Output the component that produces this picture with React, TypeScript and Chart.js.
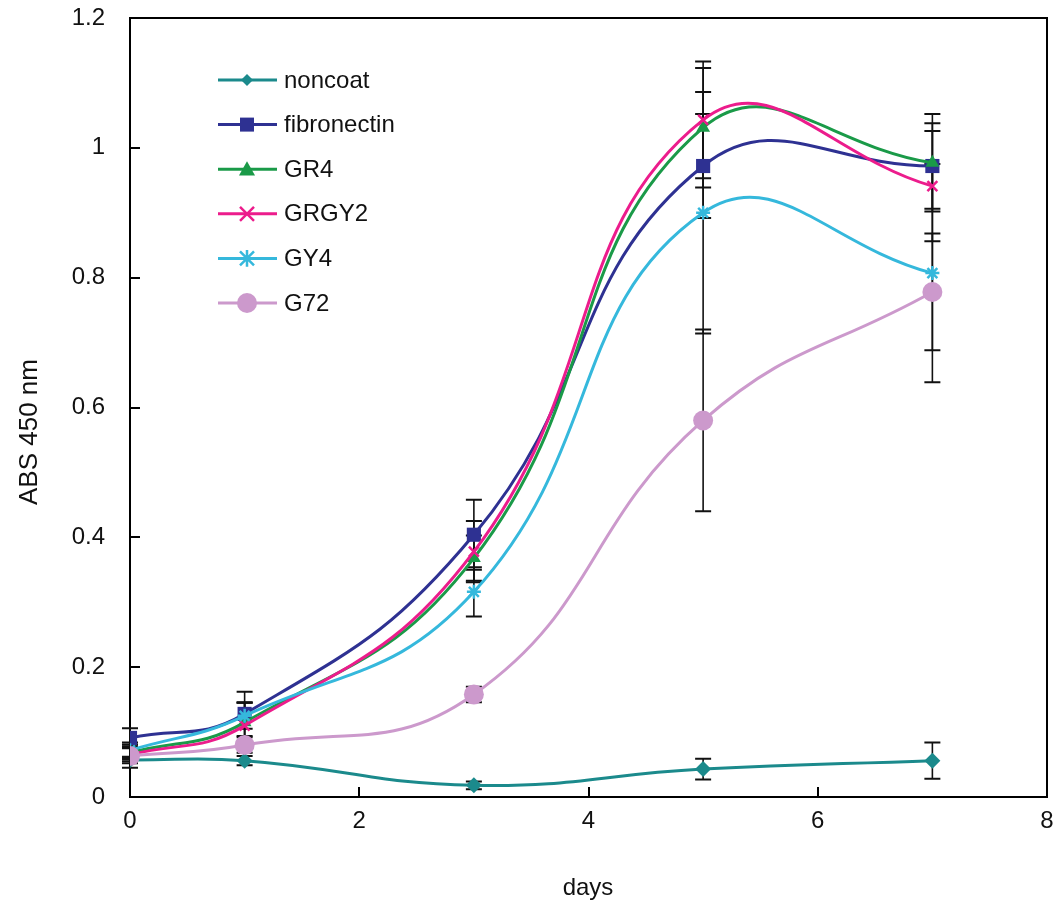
import React, { useEffect, useRef } from "react";
import { Chart, registerables } from "chart.js";

Chart.register(...registerables);

const days = [0, 1, 3, 5, 7];
const seriesNames = ["noncoat", "fibronectin", "GR4", "GRGY2", "GY4", "G72"];

const noncoat = [0.057, 0.056, 0.018, 0.043, 0.056];
const noncoatErr = [0.005, 0.007, 0.006, 0.016, 0.028];
const fibronectin = [0.091, 0.128, 0.404, 0.972, 0.972];
const fibronectinErr = [0.015, 0.034, 0.054, 0.08, 0.066];
const gr4 = [0.068, 0.115, 0.368, 1.031, 0.977];
const gr4Err = [0.01, 0.03, 0.035, 0.092, 0.075];
const grgy2 = [0.065, 0.11, 0.378, 1.043, 0.941];
const grgy2Err = [0.01, 0.036, 0.047, 0.09, 0.085];
const gy4 = [0.072, 0.125, 0.316, 0.9, 0.807];
const gy4Err = [0.012, 0.02, 0.038, 0.186, 0.168];
const g72 = [0.063, 0.08, 0.158, 0.58, 0.778];
const g72Err = [0.018, 0.012, 0.012, 0.14, 0.09];

const values = [noncoat, fibronectin, gr4, grgy2, gy4, g72];
const errors = [noncoatErr, fibronectinErr, gr4Err, grgy2Err, gy4Err, g72Err];
const colors = ["#1b8a8c", "#2e3192", "#1a9a48", "#ec1c8c", "#35b8dc", "#cc99cc"];
const markers = ["rectRot", "rect", "triangle", "crossRot", "star", "circle"];
const markerSizes = [8, 10, 8, 7, 7, 10];
const legendSizes = [6, 7, 8, 7, 7, 10];

const xTicks = [0, 2, 4, 6, 8];
const yTicks = [0, 0.2, 0.4, 0.6, 0.8, 1, 1.2];

const FONT = "'Liberation Sans', Arial, sans-serif";

function drawMarker(ctx: CanvasRenderingContext2D, style: string, x: number, y: number, r: number, color: string) {
  ctx.save();
  ctx.fillStyle = color;
  ctx.strokeStyle = color;
  ctx.lineWidth = 2.5;
  ctx.beginPath();
  if (style === "rectRot") {
    ctx.moveTo(x, y - r);
    ctx.lineTo(x + r, y);
    ctx.lineTo(x, y + r);
    ctx.lineTo(x - r, y);
    ctx.closePath();
    ctx.fill();
  } else if (style === "rect") {
    ctx.rect(x - r, y - r, 2 * r, 2 * r);
    ctx.fill();
  } else if (style === "triangle") {
    ctx.moveTo(x, y - r);
    ctx.lineTo(x + r, y + r * 0.8);
    ctx.lineTo(x - r, y + r * 0.8);
    ctx.closePath();
    ctx.fill();
  } else if (style === "crossRot") {
    ctx.moveTo(x - r, y - r);
    ctx.lineTo(x + r, y + r);
    ctx.moveTo(x + r, y - r);
    ctx.lineTo(x - r, y + r);
    ctx.stroke();
  } else if (style === "star") {
    ctx.moveTo(x - r, y - r);
    ctx.lineTo(x + r, y + r);
    ctx.moveTo(x + r, y - r);
    ctx.lineTo(x - r, y + r);
    ctx.moveTo(x, y - r * 1.2);
    ctx.lineTo(x, y + r * 1.2);
    ctx.stroke();
  } else {
    ctx.arc(x, y, r, 0, Math.PI * 2);
    ctx.fill();
  }
  ctx.restore();
}

const decorPlugin = {
  id: "decor",
  beforeDatasetsDraw(chart: any) {
    const ctx: CanvasRenderingContext2D = chart.ctx;
    const xs = chart.scales.x;
    const ys = chart.scales.y;
    const { left, right, top, bottom } = chart.chartArea;
    ctx.save();
    ctx.strokeStyle = "#000";
    ctx.lineWidth = 2;
    ctx.strokeRect(left, top, right - left, bottom - top);
    ctx.beginPath();
    yTicks.forEach((v) => {
      const py = Math.round(ys.getPixelForValue(v));
      ctx.moveTo(left, py);
      ctx.lineTo(left + 10, py);
    });
    xTicks.forEach((v) => {
      const px = Math.round(xs.getPixelForValue(v));
      ctx.moveTo(px, bottom);
      ctx.lineTo(px, bottom - 10);
    });
    ctx.stroke();
    ctx.strokeStyle = "#111";
    values.forEach((vals, i) => {
      vals.forEach((v, j) => {
        const e = errors[i][j];
        const px = xs.getPixelForValue(days[j]);
        const pt = ys.getPixelForValue(v + e);
        const pb = ys.getPixelForValue(v - e);
        ctx.lineWidth = 1.6;
        ctx.beginPath();
        ctx.moveTo(px, pt);
        ctx.lineTo(px, pb);
        ctx.stroke();
        ctx.lineWidth = 2;
        ctx.beginPath();
        ctx.moveTo(px - 8, pt);
        ctx.lineTo(px + 8, pt);
        ctx.moveTo(px - 8, pb);
        ctx.lineTo(px + 8, pb);
        ctx.stroke();
      });
    });
    ctx.restore();
  },
  afterDraw(chart: any) {
    const ctx: CanvasRenderingContext2D = chart.ctx;
    ctx.save();
    seriesNames.forEach((name, i) => {
      const cy = 80 + i * 44.6;
      ctx.strokeStyle = colors[i];
      ctx.lineWidth = 3;
      ctx.beginPath();
      ctx.moveTo(218, cy);
      ctx.lineTo(277, cy);
      ctx.stroke();
      drawMarker(ctx, markers[i], 247, cy, legendSizes[i], colors[i]);
      ctx.fillStyle = "#111";
      ctx.font = `24px ${FONT}`;
      ctx.textAlign = "left";
      ctx.textBaseline = "middle";
      ctx.fillText(name, 284, cy + 1);
    });
    ctx.fillStyle = "#111";
    ctx.font = `24px ${FONT}`;
    ctx.textAlign = "center";
    ctx.textBaseline = "middle";
    ctx.fillText("days", 588, 888);
    ctx.translate(30, 432);
    ctx.rotate(-Math.PI / 2);
    ctx.font = `26px 'Liberation Sans Narrow', 'Arial Narrow', ${FONT}`;
    ctx.fillText("ABS 450 nm", 0, 0);
    ctx.restore();
  },
};

export default function App() {
  const ref = useRef<HTMLCanvasElement | null>(null);
  useEffect(() => {
    if (!ref.current) return;
    const datasets = values.map((vals, i) => ({
      label: seriesNames[i],
      data: vals.map((v, j) => ({ x: days[j], y: v })),
      borderColor: colors[i],
      backgroundColor: colors[i],
      borderWidth: 3,
      pointStyle: markers[i] as any,
      pointRadius: markerSizes[i],
      pointBorderWidth: markers[i] === "crossRot" || markers[i] === "star" ? 2.5 : 0,
      pointBorderColor: colors[i],
      pointBackgroundColor: colors[i],
      tension: 0.45,
      order: 5 - i,
    }));
    const chart = new Chart(ref.current, {
      type: "line",
      data: { datasets },
      options: {
        animation: false,
        responsive: false,
        devicePixelRatio: 1,
        layout: { padding: { top: 18, right: 12, left: 0, bottom: 0 } },
        plugins: { legend: { display: false }, tooltip: { enabled: false } },
        scales: {
          x: {
            type: "linear",
            min: 0,
            max: 8,
            afterBuildTicks: (s: any) => {
              s.ticks = xTicks.map((v) => ({ value: v }));
            },
            afterFit: (s: any) => {
              s.height = 115;
              s.paddingLeft = 0;
              s.paddingRight = 0;
            },
            grid: { display: false, drawTicks: false },
            border: { display: false },
            ticks: {
              color: "#111",
              font: { size: 24, family: FONT },
              padding: 10,
              maxRotation: 0,
              callback: (v: any) => String(v),
            },
          },
          y: {
            type: "linear",
            min: 0,
            max: 1.2,
            afterBuildTicks: (s: any) => {
              s.ticks = yTicks.map((v) => ({ value: v }));
            },
            afterFit: (s: any) => {
              s.width = 130;
              s.paddingTop = 0;
              s.paddingBottom = 0;
            },
            grid: { display: false, drawTicks: false },
            border: { display: false },
            ticks: {
              color: "#111",
              font: { size: 24, family: FONT },
              padding: 25,
              callback: (v: any) => String(v),
            },
          },
        },
      },
      plugins: [decorPlugin],
    });
    return () => chart.destroy();
  }, []);
  return (
    <div style={{ position: "absolute", left: 0, top: 0, width: 1059, height: 912, background: "#fff" }}>
      <canvas ref={ref} width={1059} height={912} />
    </div>
  );
}
